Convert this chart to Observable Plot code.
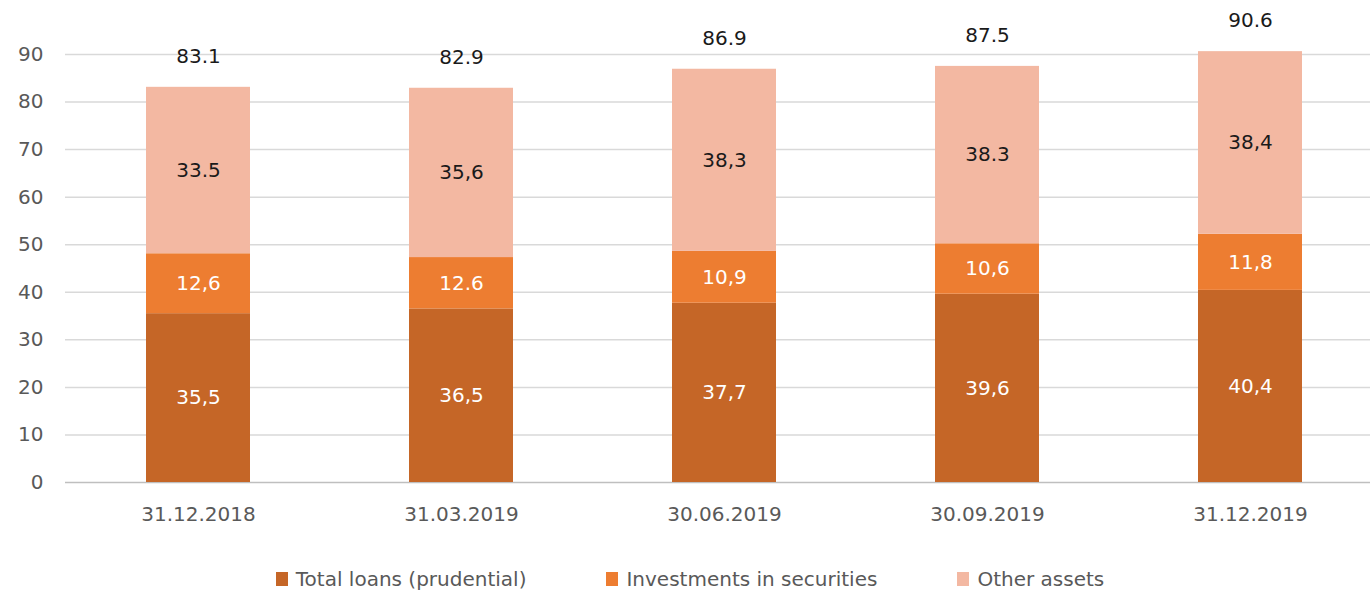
<!DOCTYPE html>
<html>
<head>
<meta charset="utf-8">
<script src="https://cdn.jsdelivr.net/npm/d3@7"></script>
<script src="https://cdn.jsdelivr.net/npm/@observablehq/plot@0.6"></script>
<style>
  html, body { margin: 0; padding: 0; background: #fff; }
  body { width: 1370px; height: 591px; overflow: hidden; font-family: "DejaVu Sans", sans-serif; }
  #legend { display: flex; justify-content: center; gap: 80px; margin-top: 27px; font-size: 20px; color: #595959; padding-left: 10px; }
  #legend .item { display: flex; align-items: center; }
  #legend .sw { width: 12px; height: 14px; margin-right: 8px; }
</style>
</head>
<body>
<div id="chart"></div>
<div id="legend"></div>
<script>
// ---- data ----
const dates = ["31.12.2018", "31.03.2019", "30.06.2019", "30.09.2019", "31.12.2019"];
const seriesNames = ["Total loans (prudential)", "Investments in securities", "Other assets"];
const loans = [35.5, 36.5, 37.7, 39.6, 40.4];
const securities = [12.6, 10.8, 10.9, 10.6, 11.8];
const other = [35.0, 35.6, 38.3, 37.3, 38.4];
const loansLabels = ["35,5", "36,5", "37,7", "39,6", "40,4"];
const securitiesLabels = ["12,6", "12.6", "10,9", "10,6", "11,8"];
const otherLabels = ["33.5", "35,6", "38,3", "38.3", "38,4"];
const totals = [83.1, 82.9, 86.9, 87.5, 90.6];
const totalLabels = ["83.1", "82.9", "86.9", "87.5", "90.6"];
const yTicks = [0, 10, 20, 30, 40, 50, 60, 70, 80, 90];
const colors = ["#C56627", "#ED7D31", "#F3B8A2"];

// ---- build stacked rows ----
const seriesValues = [loans, securities, other];
const seriesLabels = [loansLabels, securitiesLabels, otherLabels];
const labelColors = ["#ffffff", "#ffffff", "#1a1a1a"];
const rows = [];
dates.forEach((d, i) => {
  let base = 0;
  seriesValues.forEach((vals, s) => {
    const y1 = base, y2 = base + vals[i];
    rows.push({date: d, series: seriesNames[s], y1, y2, mid: (y1 + y2) / 2,
               label: seriesLabels[s][i], labelColor: labelColors[s]});
    base = y2;
  });
});
const totalRows = dates.map((d, i) => ({date: d, total: totals[i], label: totalLabels[i]}));

const font = "DejaVu Sans, sans-serif";

const chart = Plot.plot({
  width: 1370,
  height: 540,
  marginTop: 54,
  marginBottom: 58,
  marginLeft: 65,
  marginRight: 0,
  style: {fontFamily: font, fontSize: "20px", color: "#595959", background: "#fff"},
  x: {domain: dates, range: [65, 1382], paddingInner: 0.605, paddingOuter: 0.3025},
  y: {domain: [0, 90]},
  color: {domain: seriesNames, range: colors},
  marks: [
    Plot.ruleY(yTicks.filter(t => t > 0), {stroke: "#d9d9d9", strokeWidth: 1.5}),
    Plot.ruleY([0], {stroke: "#bfbfbf", strokeWidth: 1.5}),
    Plot.barY(rows, {x: "date", y1: "y1", y2: "y2", fill: "series"}),
    Plot.text(rows, {x: "date", y: "mid", text: "label", fill: d => d.labelColor, fontSize: 20}),
    Plot.text(totalRows, {x: "date", y: "total", text: "label", fill: "#1a1a1a", fontSize: 20, dy: -31}),
    Plot.axisY({ticks: yTicks, tickSize: 0, tickPadding: 22, label: null, fontSize: 20, fill: "#595959"}),
    Plot.axisX({tickSize: 0, tickPadding: 24, label: null, fontSize: 20, fill: "#595959"})
  ]
});
document.getElementById("chart").appendChild(chart);

const legend = document.getElementById("legend");
seriesNames.forEach((name, i) => {
  const item = document.createElement("div");
  item.className = "item";
  const sw = document.createElement("span");
  sw.className = "sw";
  sw.style.background = colors[i];
  const t = document.createElement("span");
  t.textContent = name;
  item.appendChild(sw);
  item.appendChild(t);
  legend.appendChild(item);
});
</script>
</body>
</html>
